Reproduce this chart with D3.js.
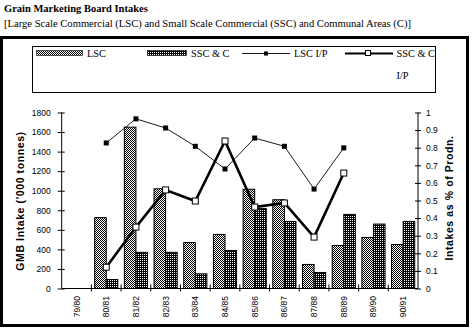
<!DOCTYPE html>
<html><head><meta charset="utf-8">
<script src="https://cdn.jsdelivr.net/npm/d3@7"></script>
<style>
body{margin:0;background:#fff;}
svg{display:block;}
</style></head>
<body>
<svg id="c" width="473" height="333"></svg>
<script>
const categories = ["79/80","80/81","81/82","82/83","83/84","84/85","85/86","86/87","87/88","88/89","89/90","90/91"];
const lscIntake = [null,725,1650,1020,470,553,1015,908,246,440,522,450];
const sscIntake = [null,92,370,370,150,389,819,686,164,758,659,686];
const lscRatio  = [null,0.827,0.964,0.912,0.808,0.679,0.855,0.808,0.565,0.799,null,null];
const sscRatio  = [null,0.121,0.349,0.56,0.497,0.838,0.463,0.486,0.292,0.656,null,null];
const leftTicks = [0,200,400,600,800,1000,1200,1400,1600,1800];
const rightTicks = [0,0.1,0.2,0.3,0.4,0.5,0.6,0.7,0.8,0.9,1];

const svg = d3.select("#c");
const defs = svg.append("defs");
const p1 = defs.append("pattern").attr("id","pLSC").attr("width",2).attr("height",2).attr("patternUnits","userSpaceOnUse");
p1.append("rect").attr("width",2).attr("height",2).attr("fill","#fff");
p1.append("rect").attr("x",0).attr("y",0).attr("width",1).attr("height",1).attr("fill","#000");
p1.append("rect").attr("x",1).attr("y",1).attr("width",1).attr("height",1).attr("fill","#000");
const p2 = defs.append("pattern").attr("id","pSSC").attr("width",2).attr("height",2).attr("patternUnits","userSpaceOnUse");
p2.append("rect").attr("width",2).attr("height",2).attr("fill","#000");
p2.append("rect").attr("x",0).attr("y",0).attr("width",1).attr("height",1).attr("fill","#fff");

const serif = "'Liberation Serif','Times New Roman',serif";
const sans = "'Liberation Sans',Arial,sans-serif";

svg.append("text").attr("x",4).attr("y",12).attr("font-family",serif).attr("font-weight","bold").attr("font-size",10.5).text("Grain Marketing Board Intakes");
svg.append("text").attr("x",4).attr("y",26.5).attr("font-family",serif).attr("font-size",10.6).text("[Large Scale Commercial (LSC) and Small Scale Commercial (SSC) and Communal Areas (C)]");

svg.append("rect").attr("x",1.5).attr("y",37.5).attr("width",466).attr("height",288).attr("fill","none").attr("stroke","#000").attr("stroke-width",3);

const x = d3.scaleBand().domain(categories).range([61.7,418]).paddingInner(0).paddingOuter(0);
const yL = d3.scaleLinear().domain([0,1800]).range([288.5,112.5]);
const yR = d3.scaleLinear().domain([0,1]).range([288.5,112.5]);
const bw = x.bandwidth()*0.39;

const g = svg.append("g");
g.selectAll("rect.lsc").data(categories.map((c,i)=>({c,v:lscIntake[i]})).filter(d=>d.v!=null)).join("rect")
  .attr("x",d=>x(d.c)+x.bandwidth()/2-bw).attr("y",d=>yL(d.v)).attr("width",bw).attr("height",d=>yL(0)-yL(d.v))
  .attr("fill","url(#pLSC)").attr("stroke","#000").attr("stroke-width",1);
g.selectAll("rect.ssc").data(categories.map((c,i)=>({c,v:sscIntake[i]})).filter(d=>d.v!=null)).join("rect")
  .attr("x",d=>x(d.c)+x.bandwidth()/2).attr("y",d=>yL(d.v)).attr("width",bw).attr("height",d=>yL(0)-yL(d.v))
  .attr("fill","url(#pSSC)").attr("stroke","#000").attr("stroke-width",1);

const axL = d3.axisLeft(yL).tickValues(leftTicks).tickSize(4).tickPadding(7).tickFormat(d3.format("d"));
const gL = svg.append("g").attr("transform","translate(61.7,0)").call(axL);
gL.select(".domain").attr("d",`M0,${yL(1800)}V${yL(0)}`);
gL.selectAll(".tick line").attr("x1",-4).attr("x2",3);
gL.selectAll("text").attr("font-family",sans).attr("font-size",8.5);

const axR = d3.axisRight(yR).tickValues(rightTicks).tickSize(3).tickPadding(5).tickFormat(d=>d===0?"0":d===1?"1":d3.format(".1f")(d));
const gR = svg.append("g").attr("transform","translate(418,0)").call(axR);
gR.select(".domain").attr("d",`M0,${yR(1)}V${yR(0)}`);
gR.selectAll(".tick line").attr("x1",-3).attr("x2",3);
gR.selectAll("text").attr("font-family",sans).attr("font-size",8.5);

svg.append("line").attr("x1",61.7).attr("x2",418).attr("y1",yL(0)).attr("y2",yL(0)).attr("stroke","#000");
svg.selectAll("line.xt").data(categories.slice(1)).join("line")
  .attr("x1",d=>x(d)).attr("x2",d=>x(d)).attr("y1",yL(0)-4).attr("y2",yL(0)+3).attr("stroke","#000");
svg.selectAll("text.xl").data(categories).join("text")
  .attr("transform",d=>`translate(${x(d)+x.bandwidth()/2+3},296) rotate(-90)`)
  .attr("text-anchor","end").attr("font-family",sans).attr("font-size",8.5).text(d=>d);

svg.append("text").attr("transform","translate(24,201) rotate(-90)").attr("text-anchor","middle")
  .attr("font-family",sans).attr("font-weight","bold").attr("font-size",10.5).attr("letter-spacing",0.6).text("GMB Intake ('000 tonnes)");
svg.append("text").attr("transform","translate(453,198) rotate(-90)").attr("text-anchor","middle")
  .attr("font-family",sans).attr("font-weight","bold").attr("font-size",10.5).attr("letter-spacing",0.6).text("Intakes as % of Prodn.");

const lscPts = categories.map((c,i)=>({c,v:lscRatio[i]})).filter(d=>d.v!=null);
const sscPts = categories.map((c,i)=>({c,v:sscRatio[i]})).filter(d=>d.v!=null);
const line = d3.line().x(d=>x(d.c)+x.bandwidth()/2).y(d=>yR(d.v));
svg.append("path").attr("d",line(lscPts)).attr("fill","none").attr("stroke","#000").attr("stroke-width",0.9);
svg.selectAll("rect.lm").data(lscPts).join("rect")
  .attr("x",d=>x(d.c)+x.bandwidth()/2-2.5).attr("y",d=>yR(d.v)-2.5).attr("width",5).attr("height",5).attr("fill","#000");
svg.append("path").attr("d",line(sscPts)).attr("fill","none").attr("stroke","#000").attr("stroke-width",2.6);
svg.selectAll("rect.sm").data(sscPts).join("rect")
  .attr("x",d=>x(d.c)+x.bandwidth()/2-3).attr("y",d=>yR(d.v)-3).attr("width",6).attr("height",6).attr("fill","#fff").attr("stroke","#000").attr("stroke-width",1);

const lg = svg.append("g");
lg.append("rect").attr("x",32.5).attr("y",46.5).attr("width",403).attr("height",46).attr("fill","none").attr("stroke","#000");
lg.append("rect").attr("x",36.5).attr("y",50.5).attr("width",46).attr("height",5).attr("fill","url(#pLSC)").attr("stroke","#000").attr("stroke-width",0.6);
lg.append("text").attr("x",87).attr("y",57).attr("font-family",serif).attr("font-size",10.3).text("LSC");
lg.append("rect").attr("x",147.5).attr("y",50.5).attr("width",39).attr("height",5).attr("fill","url(#pSSC)").attr("stroke","#000").attr("stroke-width",0.6);
lg.append("text").attr("x",191).attr("y",57).attr("font-family",serif).attr("font-size",10.3).text("SSC & C");
lg.append("line").attr("x1",242).attr("x2",290).attr("y1",53.5).attr("y2",53.5).attr("stroke","#000").attr("stroke-width",0.9);
lg.append("rect").attr("x",264).attr("y",51.5).attr("width",4).attr("height",4).attr("fill","#000");
lg.append("text").attr("x",294).attr("y",57).attr("font-family",serif).attr("font-size",10.3).text("LSC I/P");
lg.append("line").attr("x1",345).attr("x2",393).attr("y1",53.5).attr("y2",53.5).attr("stroke","#000").attr("stroke-width",2.2);
lg.append("rect").attr("x",365.5).attr("y",50.5).attr("width",5).attr("height",5).attr("fill","#fff").attr("stroke","#000");
lg.append("text").attr("x",396.5).attr("y",57).attr("font-family",serif).attr("font-size",10.3).text("SSC & C");
lg.append("text").attr("x",396.5).attr("y",79).attr("font-family",serif).attr("font-size",10.3).text("I/P");
</script>
</body></html>
